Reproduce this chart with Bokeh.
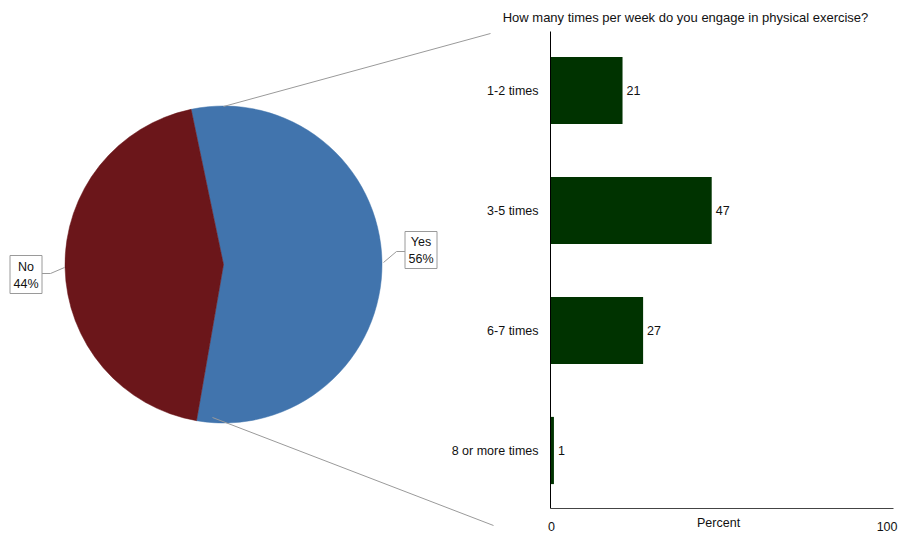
import math
from bokeh.plotting import figure
from bokeh.models import ColumnDataSource, Range1d
from bokeh.core.properties import value
from bokeh.embed import file_html
from bokeh.resources import INLINE

# ---------------- data ----------------
pie_labels = ["Yes", "No"]
pie_values = [56, 44]
categories = ["1-2 times", "3-5 times", "6-7 times", "8 or more times"]
bar_values = [21, 47, 27, 1]
x_ticks = [0, 100]
title_text = "How many times per week do you engage in physical exercise?"
x_label = "Percent"

# ---------------- layout constants ----------------
W, H = 906, 533
FONT = value("Liberation Sans")
FS = "12.5px"
FS_TITLE = "13px"
TXT = "#111111"
GREY = "#9a9a9a"


def Y(t):
    return H - t


PX_PER_PCT = 3.43
X0 = 550
ROW_PX = 120.0      # pixel spacing between bar rows
ROW0_PX = 90.0      # pixel centre of first row (from top)
PIE_CX, PIE_CY, PIE_R = 223, 264, 158.5
PIE_ROT = math.radians(1.0)
pie_colors = ["#4174AD", "#6B161A"]

pct_range = Range1d(-X0 / PX_PER_PCT, (W - X0) / PX_PER_PCT)
# row-index range (flipped: first category at top)
idx_range = Range1d(start=(H - ROW0_PX) / ROW_PX, end=-ROW0_PX / ROW_PX)

p = figure(width=W, height=H, x_range=Range1d(0, W), y_range=Range1d(0, H),
           output_backend="svg", toolbar_location=None,
           x_axis_location=None, y_axis_location=None,
           min_border_left=0, min_border_right=0, min_border_bottom=0, min_border_top=0,
           outline_line_color=None)
p.extra_x_ranges = {"pct": pct_range}
p.extra_y_ranges = {"idx": idx_range}
p.grid.visible = False
p.background_fill_color = "white"
p.border_fill_color = "white"

# ---------------- pie ----------------
total = float(sum(pie_values))
spans = [v / total * 2 * math.pi for v in pie_values]
a = -spans[0] / 2 + PIE_ROT
starts, ends = [], []
for s in spans:
    starts.append(a)
    ends.append(a + s)
    a += s
pie_src = ColumnDataSource(dict(start=starts, end=ends, color=pie_colors,
                                x=[PIE_CX] * len(pie_values), y=[Y(PIE_CY)] * len(pie_values)))
p.wedge(x="x", y="y", radius=PIE_R, start_angle="start", end_angle="end",
        fill_color="color", line_color="color", line_width=0.5, source=pie_src)

# connector lines to bar chart
p.line(x=[223, 490], y=[Y(106), Y(33)], line_color=GREY, line_width=1)
p.line(x=[212, 493], y=[Y(417), Y(525)], line_color=GREY, line_width=1)

# pie labels (boxes + leader lines)
# Yes
p.line(x=[383, 396, 405], y=[Y(262), Y(251), Y(251)], line_color=GREY, line_width=1)
p.rect(x=420.5, y=Y(249.5), width=32, height=37, fill_color="white", line_color=GREY, line_width=1)
p.text(x=[420.5, 420.5], y=[Y(241), Y(258)],
       text=[pie_labels[0], f"{pie_values[0]}%"],
       text_align="center", text_baseline="middle", text_font=FONT, text_font_size=FS, text_color=TXT)
# No
p.line(x=[41, 50, 64], y=[Y(273), Y(273), Y(267)], line_color=GREY, line_width=1)
p.rect(x=25.5, y=Y(274), width=32, height=38, fill_color="white", line_color=GREY, line_width=1)
p.text(x=[25.5, 25.5], y=[Y(266), Y(283)],
       text=[pie_labels[1], f"{pie_values[1]}%"],
       text_align="center", text_baseline="middle", text_font=FONT, text_font_size=FS, text_color=TXT)

# ---------------- bar chart ----------------
bar_src = ColumnDataSource(dict(cat=categories, idx=list(range(len(categories))), val=bar_values,
                                lab=[str(v) for v in bar_values], zero=[0] * len(categories)))
p.hbar(y="idx", left=0, right="val", height=0.56, fill_color="#003300", line_color=None,
       source=bar_src, x_range_name="pct", y_range_name="idx")
p.text(x="val", y="idx", text="lab", x_offset=4, text_align="left", text_baseline="middle",
       text_font=FONT, text_font_size=FS, text_color=TXT,
       source=bar_src, x_range_name="pct", y_range_name="idx")
p.text(x="zero", y="idx", text="cat", x_offset=-12, text_align="right", text_baseline="middle",
       text_font=FONT, text_font_size=FS, text_color=TXT,
       source=bar_src, x_range_name="pct", y_range_name="idx")

# axis lines
p.segment(x0=[0], y0=[Y(31)], x1=[0], y1=[Y(508)], line_color="black", line_width=1,
          x_range_name="pct")
p.segment(x0=[x_ticks[0]], y0=[Y(508)], x1=[x_ticks[-1]], y1=[Y(508)], line_color="#444444",
          line_width=1, x_range_name="pct")

# tick labels
p.text(x=x_ticks, y=[Y(526)] * len(x_ticks), text=[str(t) for t in x_ticks],
       text_align=["center", "right"], x_offset=[1, 4], text_baseline="middle",
       text_font=FONT, text_font_size=FS, text_color=TXT, x_range_name="pct")
p.text(x=[(x_ticks[0] + x_ticks[-1]) / 2 - 1], y=[Y(522)], text=[x_label],
       text_align="center", text_baseline="middle",
       text_font=FONT, text_font_size=FS, text_color=TXT, x_range_name="pct")

# title
p.text(x=[685], y=[Y(17)], text=[title_text], text_align="center", text_baseline="middle",
       text_font=FONT, text_font_size=FS_TITLE, text_color=TXT)

open("out.html", "w").write(file_html(p, INLINE))
